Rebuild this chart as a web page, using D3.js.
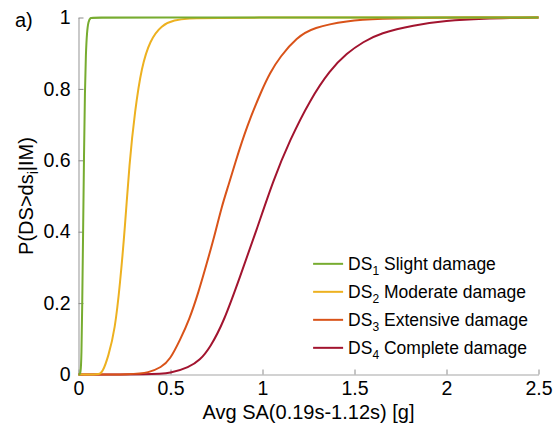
<!DOCTYPE html>
<html>
<head>
<meta charset="utf-8">
<script src="https://cdn.jsdelivr.net/npm/d3@7"></script>
<style>
  body { margin: 0; background: #fff; }
  text { font-family: "Liberation Sans", Arial, Helvetica, sans-serif; fill: #000; }
</style>
</head>
<body>
<div id="chart"></div>
<script>
// values
var ds1X = [0, 0.012, 0.016, 0.020, 0.025, 0.030, 0.035, 0.040, 0.046, 0.054, 0.065, 0.08, 2.5];
var ds1P = [0, 0, 0.05, 0.18, 0.40, 0.62, 0.80, 0.90, 0.96, 0.99, 1, 1, 1];

var ds2X = [0, 0.11, 0.13, 0.162, 0.198, 0.226, 0.253, 0.276, 0.307, 0.343, 0.389, 0.452, 0.52, 0.6, 0.7, 2.5];
var ds2P = [0, 0, 0.005, 0.05, 0.125, 0.255, 0.414, 0.59, 0.74, 0.862, 0.937, 0.979, 0.993, 0.998, 1, 1];

var ds3X = [0, 0.30, 0.38, 0.45, 0.497, 0.552, 0.602, 0.652, 0.697, 0.740, 0.778, 0.815, 0.851, 0.914, 0.996, 1.041, 1.095, 1.186, 1.276, 1.458, 1.64, 1.9, 2.5];
var ds3P = [0, 0, 0.005, 0.02, 0.041, 0.097, 0.153, 0.23, 0.311, 0.39, 0.47, 0.53, 0.592, 0.694, 0.797, 0.845, 0.89, 0.944, 0.972, 0.991, 0.997, 1, 1];

var ds4X = [0, 0.40, 0.50, 0.60, 0.66, 0.715, 0.79, 0.878, 0.968, 1.059, 1.149, 1.258, 1.367, 1.458, 1.548, 1.639, 1.82, 2.0, 2.18, 2.5];
var ds4P = [0, 0, 0.003, 0.02, 0.04, 0.075, 0.148, 0.274, 0.405, 0.545, 0.657, 0.769, 0.853, 0.900, 0.932, 0.956, 0.979, 0.991, 0.997, 1];

var seriesNames = ['Slight damage', 'Moderate damage', 'Extensive damage', 'Complete damage'];
var seriesSubs = ['1', '2', '3', '4'];
var xTicks = [0, 0.5, 1, 1.5, 2, 2.5];
var yTicks = [0, 0.2, 0.4, 0.6, 0.8, 1];

var colors = ['#77AC30', '#EDB120', '#D95319', '#A2142F'];

var width = 555,
  height = 433,
  margin = {top: 17.5, right: 16.5, bottom: 58.5, left: 78.5},
  plotW = width - margin.left - margin.right,
  plotH = height - margin.top - margin.bottom;

var svg = d3.select('#chart')
  .append('svg')
  .attr('width', width)
  .attr('height', height);

var g = svg.append('g')
  .attr('transform', 'translate(' + margin.left + ',' + margin.top + ')');

var x = d3.scaleLinear().domain([0, 2.5]).range([0, plotW]);
var y = d3.scaleLinear().domain([0, 1]).range([plotH, 0]);

// axes, ticks pointing inward like matlab
var xAxis = g.append('g')
  .attr('transform', 'translate(0,' + plotH + ')')
  .call(d3.axisBottom(x).tickValues(xTicks).tickSizeInner(-5).tickSizeOuter(0).tickPadding(7)
    .tickFormat(function(d){ return String(d); }));

var yAxis = g.append('g')
  .call(d3.axisLeft(y).tickValues(yTicks).tickSizeInner(-5).tickSizeOuter(0).tickPadding(8)
    .tickFormat(function(d){ return String(d); }));

[xAxis, yAxis].forEach(function(a){
  a.select('.domain').attr('stroke', '#a6a6a6').attr('stroke-width', 1.2);
  a.selectAll('.tick line').attr('stroke', '#8c8c8c');
  a.selectAll('.tick text').style('font-size', '19.5px').attr('fill', '#1a1a1a');
});

var line = d3.line()
  .x(function(d){ return x(d[0]); })
  .y(function(d){ return y(d[1]); })
  .curve(d3.curveBasis);

var series = [
  d3.zip(ds1X, ds1P),
  d3.zip(ds2X, ds2P),
  d3.zip(ds3X, ds3P),
  d3.zip(ds4X, ds4P)
];

// draw last series first so DS1 sits on top at P = 1
for (var i = series.length - 1; i >= 0; i--) {
  g.append('path')
    .datum(series[i])
    .attr('fill', 'none')
    .attr('stroke', colors[i])
    .attr('stroke-width', 2)
    .attr('d', line);
}

// axis labels
svg.append('text')
  .attr('x', margin.left + plotW / 2)
  .attr('y', 419)
  .attr('text-anchor', 'middle')
  .style('font-size', '20px')
  .text('Avg SA(0.19s-1.12s) [g]');

var yl = svg.append('text')
  .attr('transform', 'translate(33,' + (margin.top + plotH / 2) + ') rotate(-90)')
  .attr('text-anchor', 'middle')
  .style('font-size', '20px');
yl.append('tspan').text('P(DS>ds');
yl.append('tspan').attr('dy', 5).style('font-size', '14px').text('i');
yl.append('tspan').attr('dy', -5).text('|IM)');

svg.append('text')
  .attr('x', 15)
  .attr('y', 27)
  .style('font-size', '20px')
  .text('a)');

// legend
var legend = g.append('g')
  .attr('transform', 'translate(' + (x(1.275)) + ',' + (y(0.31)) + ')');

seriesNames.forEach(function(name, i){
  var row = legend.append('g').attr('transform', 'translate(0,' + (i * 28) + ')');
  row.append('line')
    .attr('x1', 0).attr('x2', 30)
    .attr('y1', 0).attr('y2', 0)
    .attr('stroke', colors[i])
    .attr('stroke-width', 2);
  var t = row.append('text')
    .attr('x', 35)
    .attr('y', 6)
    .style('font-size', '17.5px');
  t.append('tspan').text('DS');
  t.append('tspan').attr('dy', 5).style('font-size', '12px').text(seriesSubs[i]);
  t.append('tspan').attr('dy', -5).text(' ' + name);
});
</script>
</body>
</html>
